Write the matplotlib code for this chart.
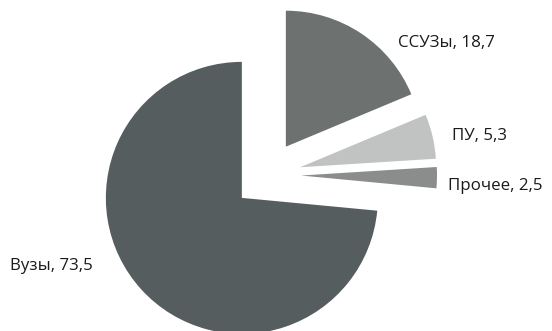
import matplotlib.pyplot as plt

plt.rcParams['font.family'] = ['Open Sans', 'DejaVu Sans']

# данные
labels = ['ССУЗы', 'ПУ', 'Прочее', 'Вузы']
values = [18.7, 5.3, 2.5, 73.5]
value_text = ['18,7', '5,3', '2,5', '73,5']
colors = ['#6d7170', '#c0c3c2', '#8a8d8c', '#565d5e']

# положение подписей (px: левый край, базовая линия)
label_pos = [(398, 47), (452, 140), (448, 190), (10, 270)]

W, H = 552, 331
fig = plt.figure(figsize=(W / 100, H / 100), dpi=100)
ax = fig.add_axes([0, 0, 1, 1])

ax.pie(values, colors=colors, startangle=90, counterclock=False,
       explode=[0.25] * len(values), radius=1, center=(0, 0),
       wedgeprops=dict(linewidth=0))

# центр круга в пикселях (267, 175), радиус 136 px
cx, cy, r = 267, 175, 136
ax.set_xlim(-cx / r, (W - cx) / r)
ax.set_ylim(-(H - cy) / r, cy / r)
ax.set_aspect('equal')
ax.axis('off')

for lab, vt, (px, py) in zip(labels, value_text, label_pos):
    fig.text(px / W, 1 - py / H, f'{lab}, {vt}', fontsize=12.2,
             color='#1a1a1a', ha='left', va='baseline')

fig.savefig('out.png', dpi=100)
